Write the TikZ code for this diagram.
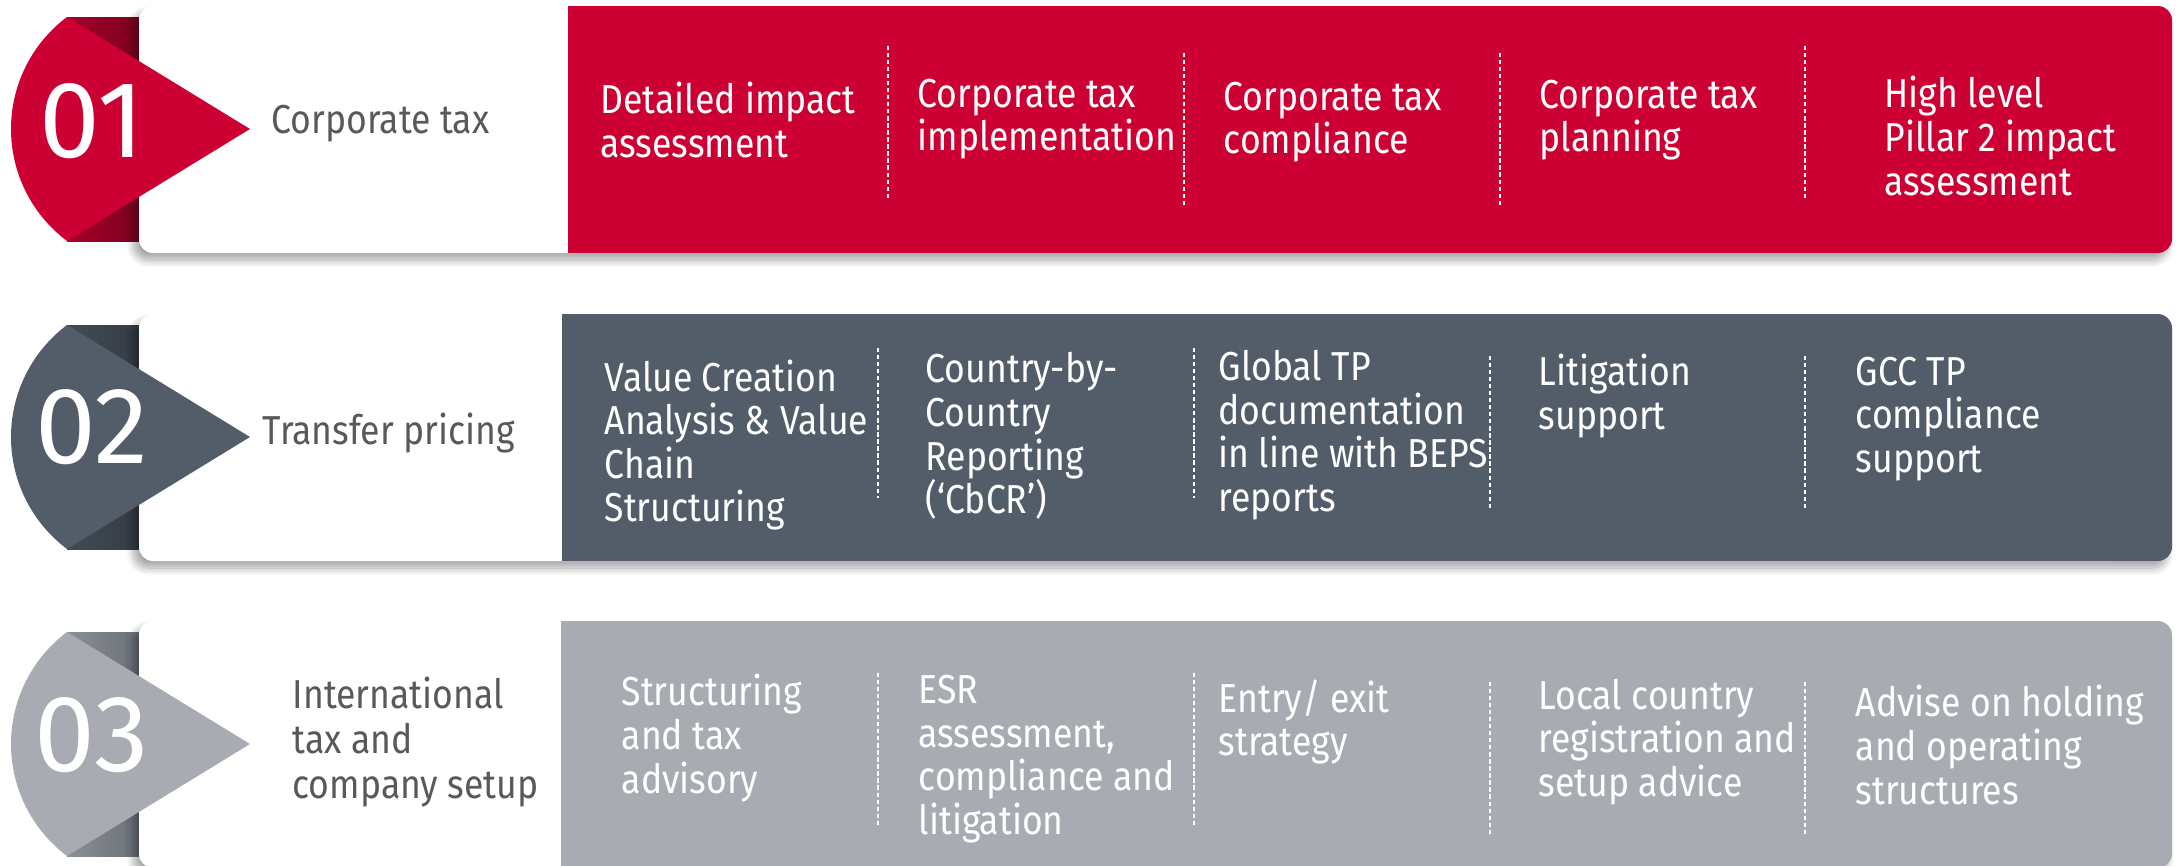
\documentclass[tikz,border=0pt]{standalone}
\usepackage{fontspec}
\setmainfont{Fira Sans}[FakeStretch=0.88]
\newfontfamily\numfont{Fira Sans}
\usepackage{tikz}
\usetikzlibrary{positioning,calc,shadows.blur}

\definecolor{taxred}{HTML}{CC0033}
\definecolor{taxredA}{HTML}{A6002A}
\definecolor{taxredB}{HTML}{7C001E}
\definecolor{tpslate}{HTML}{525D69}
\definecolor{tpslateA}{HTML}{434C56}
\definecolor{tpslateB}{HTML}{343B43}
\definecolor{intgrey}{HTML}{A8ACB2}
\definecolor{intgreyA}{HTML}{8B9097}
\definecolor{intgreyB}{HTML}{6B7078}
\definecolor{headgrey}{HTML}{58595B}

\tikzset{
  servicetext/.style={anchor=west, align=left, text=white, inner sep=0pt,
    font=\fontsize{11.5}{12.4}\selectfont},
  headtext/.style={anchor=west, align=left, text=headgrey, inner sep=0pt,
    font=\fontsize{11.5}{12.8}\selectfont},
  numtext/.style={text=white, inner sep=0pt, font=\numfont\fontsize{31}{31}\selectfont},
  dashsep/.style={white, line width=0.4pt, dash pattern=on 1.2pt off 0.8pt}
}

\begin{document}
\begin{tikzpicture}
    \useasboundingbox (0,0) rectangle (21.82,8.65);

    % Row panels
    \foreach \dy/\cx/\main/\ribA/\ribB in {0/5.68/taxred/taxredA/taxredB,
        -3.08/5.62/tpslate/tpslateA/tpslateB, -6.15/5.61/intgrey/intgreyA/intgreyB}{
      \begin{scope}[yshift=\dy cm]
        \shade[left color=\ribA, right color=\ribB] (0.67,6.24) rectangle (1.39,8.48);
        \fill[white, rounded corners=4pt, blur shadow={shadow xshift=-1.5pt,
            shadow yshift=-2pt, shadow blur steps=10, shadow opacity=35}]
            (1.39,6.12) rectangle (21.72,8.59);
        \fill[\main] (\cx,6.12) rectangle (21.4,8.59);
        \fill[\main, rounded corners=4pt] (21.0,6.12) rectangle (21.72,8.59);
        \fill[\main] (0.67,8.48) arc[start angle=126.87, end angle=233.13, radius=1.4]
            -- (2.5,7.36) -- cycle;
      \end{scope}
    }

    % Numbers and headings
    \node[numtext] (n1) at (0.92,7.44) {01};
    \node[numtext] (n2) at (0.92,4.38) {02};
    \node[numtext] (n3) at (0.92,1.30) {03};
    \node[headtext] (h1) at (2.71,7.41) {Corporate tax};
    \node[headtext] (h2) at (2.62,4.32) {Transfer pricing};
    \node[headtext] (h3) at (2.92,1.23) {International\\tax and\\company setup};

    % Corporate tax services
    \node[servicetext] (s11) at (6.00,7.45) {Detailed impact\\assessment};
    \node[servicetext] (s12) at (9.17,7.46) {Corporate tax\\implementation};
    \node[servicetext] (s13) at (12.23,7.43) {Corporate tax\\compliance};
    \node[servicetext] (s14) at (15.39,7.45) {Corporate tax\\planning};
    \node[servicetext] (s15) at (18.84,7.29) {High level\\Pillar 2 impact\\assessment};

    % Transfer pricing services
    \node[servicetext] (s21) at (6.04,4.20) {Value Creation\\Analysis \& Value\\Chain\\Structuring};
    \node[servicetext] (s22) at (9.25,4.29) {Country-by-\\Country\\Reporting\\(‘CbCR’)};
    \node[servicetext] (s23) at (12.18,4.30) {Global TP\\documentation\\in line with BEPS\\reports};
    \node[servicetext] (s24) at (15.38,4.69) {Litigation\\support};
    \node[servicetext] (s25) at (18.55,4.46) {GCC TP\\compliance\\support};

    % International tax services
    \node[servicetext] (s31) at (6.21,1.27) {Structuring\\and tax\\advisory};
    \node[servicetext] (s32) at (9.18,1.06) {ESR\\assessment,\\compliance and\\litigation};
    \node[servicetext] (s33) at (12.18,1.43) {Entry/ exit\\strategy};
    \node[servicetext] (s34) at (15.38,1.23) {Local country\\registration and\\setup advice};
    \node[servicetext] (s35) at (18.55,1.20) {Advise on holding\\and operating\\structures};

    % Dashed separators
    \foreach \x/\ya/\yb in {8.88/8.19/6.67, 11.84/8.12/6.59, 15.00/8.12/6.59, 18.05/8.19/6.67,
        8.78/5.17/3.67, 11.94/5.17/3.67, 14.90/5.09/3.56, 18.05/5.09/3.56,
        8.78/1.92/0.40, 11.94/1.92/0.40, 14.90/1.83/0.30, 18.05/1.83/0.30}
      \draw[dashsep] (\x,\ya) -- (\x,\yb);
\end{tikzpicture}
\end{document}
